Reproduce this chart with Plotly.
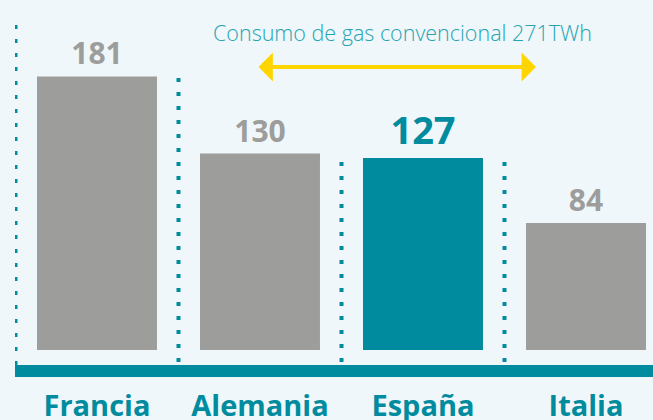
import plotly.graph_objects as go

# ---- data ----
categories = ["Francia", "Alemania", "España", "Italia"]
values = [181, 130, 127, 84]
value_labels = ["181", "130", "127", "84"]
highlight = "España"
note_text = "Consumo de gas convencional 271TWh"

# ---- styles ----
GRAY = "#9D9D9C"
TEAL = "#008C9E"
NOTE = "#25A3B2"
YELLOW = "#FFD500"
BG = "#EFF7FA"

W, H = 653, 420
M_L, M_R, M_T, M_B = 15, 0, 10, 55
plot_h = H - M_T - M_B
plot_w = W - M_L - M_R

colors = [TEAL if c == highlight else GRAY for c in categories]
lab_sizes = [38 if c == highlight else 30 for c in categories]

fig = go.Figure()
fig.add_trace(go.Bar(
    x=categories, y=values,
    marker=dict(color=colors, line=dict(width=0)),
    width=0.736,
    text=value_labels, textposition="outside",
    textfont=dict(family="Open Sans", size=lab_sizes, color=colors, weight="bold"),
    cliponaxis=False,
    hoverinfo="skip",
))

shapes = []
# dotted separators between categories
for i in range(len(categories)):
    x = i - 0.5
    top = values[i - 1] if i else 221
    bottom = -10 if i == 0 else -8
    shapes.append(dict(type="line", xref="x", x0=x, x1=x,
                       yref="y", y0=bottom, y1=top,
                       line=dict(color=TEAL, width=4, dash="4px,10px")))
# teal base band
shapes.append(dict(type="rect", xref="paper", x0=0, x1=1, yref="paper",
                   y0=-12 / plot_h, y1=0, fillcolor=TEAL, line=dict(width=0)))

annotations = [
    dict(text=note_text, xref="paper", yref="paper", x=(403 - M_L) / plot_w,
         y=(H - M_B - 32) / plot_h,
         showarrow=False, font=dict(family="Open Sans", size=21.5, color=NOTE, weight=300),
         xanchor="center", yanchor="middle"),
    dict(text="", xref="paper", yref="paper", x=(536 - M_L) / plot_w,
         y=(H - M_B - 67) / plot_h, ax=-279, ay=0, axref="pixel", ayref="pixel",
         showarrow=True, arrowhead=1, arrowside="end+start", arrowsize=1.2,
         arrowwidth=4, arrowcolor=YELLOW, standoff=0, startstandoff=0),
]

fig.update_layout(
    width=W, height=H,
    margin=dict(l=M_L, r=M_R, t=M_T, b=M_B, autoexpand=False),
    paper_bgcolor=BG, plot_bgcolor=BG,
    showlegend=False,
    shapes=shapes, annotations=annotations,
    xaxis=dict(range=[-0.503, 3.411], showgrid=False, zeroline=False, showline=False,
               automargin=False,
               ticks="", tickfont=dict(family="Open Sans", size=29, color=TEAL, weight="bold"),
               ticklabelstandoff=21),
    yaxis=dict(range=[-10, 225], visible=False, showgrid=False, zeroline=False,
               automargin=False),
)

fig.write_html("out.html", config={"displayModeBar": False},
               post_script="document.body.style.margin='0';")
